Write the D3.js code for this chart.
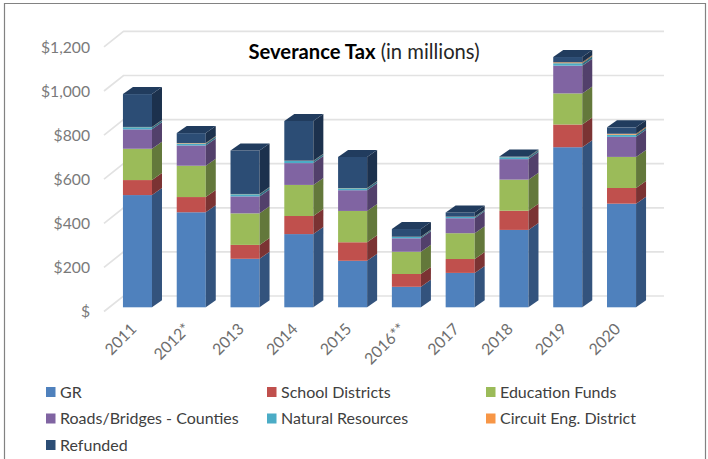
<!DOCTYPE html>
<html><head><meta charset="utf-8">
<script src="https://cdn.jsdelivr.net/npm/d3@7"></script>
<style>html,body{margin:0;padding:0;background:#fff}svg{display:block}text{font-family:Lato,"Open Sans",sans-serif}</style>
</head><body><svg id="c" width="708" height="459"></svg>
<script>
const categories=["2011","2012*","2013","2014","2015","2016**","2017","2018","2019","2020"];
const seriesNames=["GR","School Districts","Education Funds","Roads/Bridges - Counties","Natural Resources","Circuit Eng. District","Refunded"];
const seriesColors=["#4f81bd","#c0504d","#9bbb59","#8064a2","#4bacc6","#f79646","#2c4d75"];
const GR=[509,431,220,332,211,93,156,351,726,470];
const SchoolDistricts=[68,69,63,82,84,58,63,87,103,71];
const EducationFunds=[142,142,143,141,142,101,117,141,141,141];
const RoadsBridges=[88,92,77,99,94,61,68,93,126,91];
const NaturalResources=[10,9,10,10,9,6,6,9,11,10];
const CircuitEng=[1,2,1,1,1,1,1,1,4,4];
const Refunded=[149,45,197,180,141,35,19,2,24,29];
const yTicks=[0,200,400,600,800,1000,1200];
const tickLabels=["$","$200","$400","$600","$800","$1,000","$1,200"];
const columns=[GR,SchoolDistricts,EducationFunds,RoadsBridges,NaturalResources,CircuitEng,Refunded];

const svg=d3.select("#c");
const rows=categories.map((c,i)=>{const r={cat:c};seriesNames.forEach((s,j)=>r[s]=columns[j][i]);return r;});
const stacked=d3.stack().keys(seriesNames)(rows);

const y=d3.scaleLinear().domain([0,1200]).range([307.3,42.7]);
const x=d3.scaleBand().domain(categories).range([109.5,649.5]).paddingInner(0.46).paddingOuter(0.25);
const dx=10,dy=-7;          // bar depth
const wallDx=19.5,wallDy=-15.5,wallOff=-11.3; // wall vs. front plane

// frame
svg.append("path").attr("d","M4.5,470V3.5H705.5V470").attr("fill","none").attr("stroke","#828282").attr("stroke-width",1.2);

// gridlines
const grid=svg.append("g").attr("fill","none").attr("stroke","#e2e2e2").attr("stroke-width",1.7);
yTicks.forEach(t=>{
  const yb=y(t)+wallOff;
  grid.append("path").attr("d",`M104,${yb-wallDy}L${104+wallDx},${yb}H664`);
});
// y labels
svg.append("g").selectAll("text").data(yTicks).join("text")
  .attr("x",90).attr("y",t=>y(t)+wallOff-wallDy+2).attr("text-anchor","end").attr("dominant-baseline","middle")
  .attr("font-size",15.7).attr("fill","#7a7a7a").text((t,i)=>tickLabels[i]);

// bars
const W=x.bandwidth();
const barG=svg.append("g");
categories.forEach((c,i)=>{
  const X=x(c);
  stacked.forEach((s,j)=>{
    const y0=y(s[i][0]),y1=y(s[i][1]);
    const col=d3.color(seriesColors[j]);
    const side=d3.rgb(col.r*.64,col.g*.64,col.b*.66);
    barG.append("rect").attr("x",X).attr("y",y1).attr("width",W).attr("height",y0-y1).attr("fill",seriesColors[j]);
    barG.append("path").attr("d",`M${X+W},${y0}L${X+W+dx},${y0+dy}V${y1+dy}L${X+W},${y1}Z`).attr("fill",side);
    if(j===stacked.length-1){
      barG.append("path").attr("d",`M${X},${y1}L${X+dx},${y1+dy}H${X+W+dx}L${X+W},${y1}Z`).attr("fill","#213c5e");
    }
  });
});

// category labels
svg.append("g").selectAll("text").data(categories).join("text")
  .attr("text-anchor","end").attr("font-size",15.8).attr("fill","#6e6e6e")
  .attr("transform",c=>`translate(${x(c)+W/2},${330}) rotate(-45)`).text(c=>c);

// title
const title=svg.append("text").attr("x",364).attr("y",59).attr("text-anchor","middle").attr("font-size",20.2).attr("fill","#000");
title.append("tspan").attr("font-weight",700).text("Severance Tax");
title.append("tspan").attr("fill","#262626").text(" (in millions)");

// legend
const legendX=[46,267,486],legendY=[392,418.5,445];
const lg=svg.append("g");
seriesNames.forEach((s,i)=>{
  const lx=legendX[i%3],ly=legendY[Math.floor(i/3)];
  lg.append("rect").attr("x",lx).attr("y",ly-5).attr("width",9.5).attr("height",10).attr("fill",seriesColors[i]);
  lg.append("text").attr("x",lx+14).attr("y",ly+1.5).attr("dominant-baseline","middle").attr("font-size",16).attr("fill","#404040").text(s);
});
</script></body></html>
